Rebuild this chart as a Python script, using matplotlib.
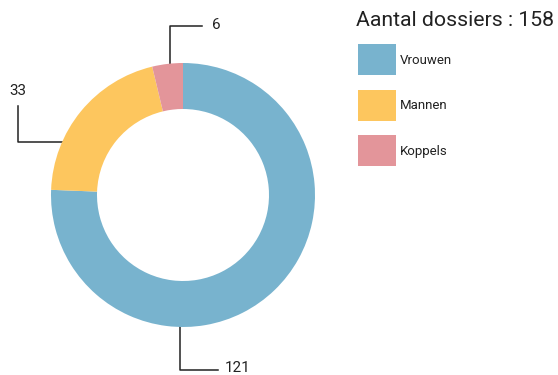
import numpy as np
import matplotlib
matplotlib.use("Agg")
import matplotlib.pyplot as plt
from matplotlib.patches import Rectangle

categories = ["Vrouwen", "Mannen", "Koppels"]
values = [121, 33, 6]
colors = ["#78B3CE", "#FDC65E", "#E3959A"]
title = "Aantal dossiers : 158"

plt.rcParams["font.family"] = ["Roboto", "DejaVu Sans"]

W, H = 558, 375
fig = plt.figure(figsize=(W / 100, H / 100), dpi=100)
ax = fig.add_axes([0, 0, 1, 1])
ax.set_xlim(0, W)
ax.set_ylim(H, 0)
ax.set_aspect("equal")
ax.axis("off")

cx, cy = 183, 195
r_out, r_in = 132, 86

# pie drawn in a y-up helper axes overlaid on the same pixel grid
pax = fig.add_axes([0, 0, 1, 1])
pax.set_xlim(0, W)
pax.set_ylim(0, H)
pax.set_aspect("equal")
pax.axis("off")
wedges, _ = pax.pie(values, colors=colors, startangle=90, counterclock=False,
                    center=(cx, H - cy), radius=r_out,
                    wedgeprops=dict(width=r_out - r_in, edgecolor="none"))
pax.set_xlim(0, W)
pax.set_ylim(0, H)

# leader lines: anchor angle (deg) inside ring, then path to label
def anchor(angle_deg, r):
    a = np.deg2rad(angle_deg)
    return cx + r * np.cos(a), cy - r * np.sin(a)

lc = "#222222"
tc = "#222222"
# Koppels
x0, y0 = anchor(96.7, 110)
ax.plot([x0, x0, 202], [y0, 26, 26], color=lc, lw=1.1)
ax.text(212, 25, str(values[2]), ha="left", va="center", fontsize=11, color=tc)
# Mannen
x0, y0 = anchor(148.4, 101)
ax.plot([x0, 18, 18], [y0, y0, 106], color=lc, lw=1.1)
ax.text(18, 91, str(values[1]), ha="center", va="center", fontsize=11, color=tc)
# Vrouwen
x0, y0 = anchor(268.5, 111)
ax.plot([x0, x0, 218], [y0, 370, 370], color=lc, lw=1.1)
ax.text(225, 368, str(values[0]), ha="left", va="center", fontsize=11, color=tc)

# legend
ax.text(356, 20, title, ha="left", va="center", fontsize=15.3, color=tc,
        fontweight="normal")
for i, (lab, col) in enumerate(zip(categories, colors)):
    y = 44 + i * 45.5
    ax.add_patch(Rectangle((358, y), 38, 31, facecolor=col, edgecolor="none"))
    ax.text(400, y + 16, lab, ha="left", va="center", fontsize=9.5, color=tc)

fig.savefig("out.png", dpi=100)
